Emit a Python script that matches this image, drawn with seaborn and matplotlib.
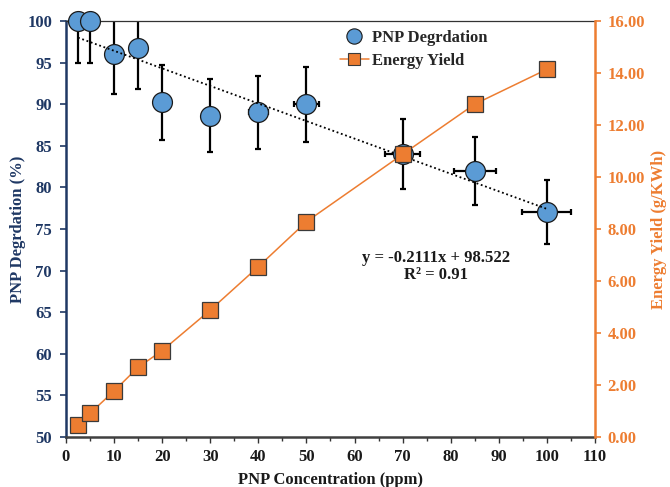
import matplotlib
matplotlib.use("Agg")
import matplotlib.pyplot as plt
import seaborn as sns
import numpy as np
import pandas as pd
from matplotlib.lines import Line2D

# ---- data ----
conc = [2.5, 5, 10, 15, 20, 30, 40, 50, 70, 85, 100]
degradation = [100, 100, 96.0, 96.7, 90.2, 88.6, 89.0, 90.0, 84.0, 82.0, 77.0]
deg_err = [5.0, 5.0, 4.8, 4.9, 4.5, 4.4, 4.4, 4.5, 4.2, 4.1, 3.85]
conc_err = [0.12, 0.25, 0.5, 0.75, 1.0, 1.5, 2.0, 2.6, 3.6, 4.4, 5.1]
energy_yield = [0.46, 0.91, 1.77, 2.68, 3.32, 4.88, 6.55, 8.28, 10.87, 12.80, 14.14]
trend_slope = -0.2111
trend_intercept = 98.522
trend_r2 = 0.91

navy = "#1F3864"
orange = "#ED7D31"
blue = "#5B9BD5"
FS = 12

sns.set_style("white")
plt.rcParams['font.family'] = ['Liberation Serif', 'DejaVu Serif']
plt.rcParams['font.weight'] = 'bold'

df = pd.DataFrame({"conc": conc, "deg": degradation, "ey": energy_yield})

fig = plt.figure(figsize=(6.7, 4.87), dpi=100)
ax = fig.add_axes([0.0985, 0.1027, 0.7895, 0.8543])

# error bars (clipped)
ax.errorbar(conc, degradation, yerr=deg_err, xerr=conc_err, fmt='none',
            ecolor='black', elinewidth=1.6, capsize=2.5, capthick=1.6, zorder=2)
# degradation points
sns.scatterplot(data=df, x="conc", y="deg", ax=ax, s=205, color=blue,
                edgecolor="#1a1a1a", linewidth=0.9, zorder=3, clip_on=False, legend=False)
# trendline
xt = np.array([conc[0], conc[-1]])
ax.plot(xt, trend_slope * xt + trend_intercept, color='black', linestyle=(0, (1, 1.5)),
        linewidth=1.3, zorder=4)

ax.set_xlim(0, 110)
ax.set_ylim(50, 100)
ax.set_xticks(np.arange(0, 111, 10))
ax.set_xticks(np.arange(5, 110, 10), minor=True)
ax.set_yticks(np.arange(50, 101, 5))

ax.tick_params(axis='x', which='major', direction='out', length=4, width=1, color='#333333',
               labelsize=FS, labelcolor='#1a1a1a', bottom=True, pad=5)
ax.tick_params(axis='x', which='minor', direction='out', length=3, width=1, color='#333333', bottom=True)
ax.tick_params(axis='y', direction='out', length=4, width=1.2, color=navy,
               labelsize=FS, labelcolor=navy, left=True, pad=6)
for lab in ax.get_xticklabels() + ax.get_yticklabels():
    lab.set_fontweight('bold')

ax.spines['left'].set_color(navy)
ax.spines['left'].set_linewidth(1.8)
ax.spines['bottom'].set_color('#404040')
ax.spines['bottom'].set_linewidth(1.8)
ax.spines['top'].set_color('#333333')
ax.spines['top'].set_linewidth(0.9)
ax.spines['right'].set_visible(False)

ax.set_xlabel("PNP Concentration (ppm)", fontsize=FS, fontweight='bold', color='#1a1a1a', labelpad=5)
ax.set_ylabel("PNP Degrdation (%)", fontsize=FS, fontweight='bold', color=navy, labelpad=1)

# energy yield on twin axis
ax2 = ax.twinx()
sns.lineplot(data=df, x="conc", y="ey", ax=ax2, color=orange, linewidth=1.1,
             marker='s', markersize=12, markerfacecolor=orange, markeredgecolor='#3a3a3a',
             markeredgewidth=0.9, clip_on=False, legend=False)
ax2.set_ylim(0, 16)
ax2.set_yticks(np.arange(0, 16.1, 2))
ax2.set_yticklabels([f"{v:.2f}" for v in np.arange(0, 16.1, 2)])
ax2.tick_params(axis='y', direction='out', length=4, width=1.2, color=orange,
                labelsize=FS, labelcolor=orange, right=True, pad=5)
for lab in ax2.get_yticklabels():
    lab.set_fontweight('bold')
ax2.spines['right'].set_color(orange)
ax2.spines['right'].set_linewidth(1.8)
ax2.spines['left'].set_visible(False)
ax2.spines['top'].set_visible(False)
ax2.spines['bottom'].set_visible(False)
ax2.set_xlabel("")
ax2.set_ylabel("Energy Yield (g/KWh)", fontsize=FS, fontweight='bold', color=orange, labelpad=4)

# equation
ax2.text(0.699, 0.41, f"y = {trend_slope}x + {trend_intercept}\nR\u00b2 = {trend_r2}",
         transform=ax.transAxes, ha='center', va='center', fontsize=FS, fontweight='bold',
         color='#1a1a1a', linespacing=1.15)

# legend
h1 = Line2D([], [], linestyle='none', marker='o', markersize=11, markerfacecolor=blue,
            markeredgecolor='#1a1a1a', markeredgewidth=0.8)
h2 = Line2D([], [], color=orange, linewidth=1.1, marker='s', markersize=9,
            markerfacecolor=orange, markeredgecolor='#3a3a3a', markeredgewidth=0.8)
leg = ax2.legend([h1, h2], ["PNP Degrdation", "Energy Yield"], loc='upper left',
                 bbox_to_anchor=(0.49, 1.015), frameon=False, prop={'weight': 'bold', 'size': FS},
                 handlelength=1.7, handletextpad=0.2, labelspacing=0.45)

fig.savefig("out.png", dpi=100)
